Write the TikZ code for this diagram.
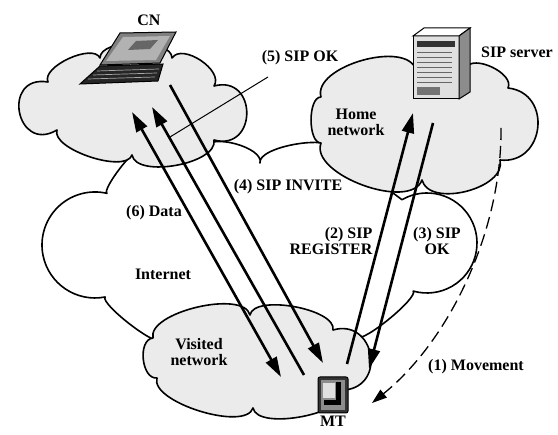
\documentclass[tikz,border=0pt]{standalone}
\usepackage{fontspec}
\setmainfont{Liberation Serif}
\usetikzlibrary{arrows.meta}
\begin{document}
\begin{tikzpicture}[x=1pt,y=-1pt,
  cloudline/.style={draw=black, line width=1.6pt, line join=round},
  cloudfill/.style={cloudline, fill=black!8},
  msg/.style={line width=2.6pt, -{Triangle[length=20pt,width=12pt]}},
  msgboth/.style={line width=2.6pt, {Triangle[length=20pt,width=12pt]}-{Triangle[length=20pt,width=12pt]}},
  move/.style={line width=1.3pt, dash pattern=on 12pt off 6pt, -{Triangle[length=15pt,width=10pt]}},
  leader/.style={line width=1pt},
  lbl/.style={font=\fontsize{16}{16}\selectfont\bfseries, inner sep=0pt},
]
\useasboundingbox (0,0) rectangle (558,435);
\fill[white] (0,0) rectangle (558,435);

% Internet cloud
\path[cloudline, fill=white] (205,148) to[bend left=90,looseness=0.72] (260,163)
  to[bend left=90,looseness=0.56] (335,150) -- (402,199.7)
  arc[start angle=-120,end angle=106,radius=50]
  to[bend left=90,looseness=0.3] (357,337) -- (345,350) -- (165,345) -- (160,340)
  to[bend left=90,looseness=0.3] (105.1,297)
  arc[start angle=79,end angle=283,radius=53]
  to[bend left=90,looseness=0.3] (140,150) -- cycle;

% CN cloud
\path[cloudfill] (48,82) to[bend left=90,looseness=0.75] (100,58)
  to[bend left=90,looseness=0.71] (172,58)
  to[bend left=90,looseness=0.94] (214,86)
  to[bend left=105,looseness=2.15] (214,140)
  to[bend left=90,looseness=0.74] (132,155)
  to[bend left=90,looseness=0.65] (57,130)
  to[bend left=110,looseness=2.5] (48,82) -- cycle;

% Home network cloud
\path[cloudfill] (321,97) to[bend left=90,looseness=0.83] (416,70)
  to[bend left=90,looseness=0.5] (466,68)
  to[bend left=90,looseness=0.88] (508,88)
  to[bend left=90,looseness=1.6] (500,160)
  to[bend left=90,looseness=0.93] (422,180)
  to[bend left=90,looseness=0.8] (321,143)
  to[bend left=90,looseness=0.74] (321,97) -- cycle;

% Visited network cloud
\path[cloudfill] (153,338) to[bend left=90,looseness=0.68] (250,315)
  to[bend left=90,looseness=0.65] (333,330)
  to[bend left=95,looseness=1.79] (345,390)
  to[bend left=90,looseness=0.65] (253,408)
  to[bend left=90,looseness=0.64] (157,378)
  to[bend left=90,looseness=1.0] (153,338) -- cycle;

% Laptop (CN)
\filldraw[fill=black!50, draw=black, line width=1pt] (100,65) -- (160,63) -- (176,32) -- (120,33) -- cycle;
\fill[black!30] (106,61) -- (156,60) -- (170,36) -- (123,37) -- cycle;
\fill[black!60] (128,50) -- (150,49) -- (158,40) -- (136,41) -- cycle;
\filldraw[fill=black!85, draw=black, line width=1pt] (80,84) -- (158,81) -- (163,64) -- (100,66) -- cycle;
\draw[black!35, line width=0.7pt] (88,79) -- (155,77) (93,75) -- (157,73) (97,71) -- (159,69);

% Server
\filldraw[fill=black!12, draw=black, line width=1pt] (413,36) rectangle (459,99);
\filldraw[fill=white, draw=black, line width=1pt] (413,36) -- (424,28) -- (470,28) -- (459,36) -- cycle;
\filldraw[fill=black!45, draw=black, line width=1pt] (459,36) -- (470,28) -- (470,92) -- (459,99) -- cycle;
\fill[black!80] (417,41) rectangle (455,47);
\foreach \yy in {52,57,62,67,72,77,82}{\draw[black!60, line width=0.8pt] (417,\yy) -- (452,\yy);}
\fill[black!55] (417,87) rectangle (440,95);

% Mobile terminal
\filldraw[fill=black!80, draw=black, line width=1pt, rounded corners=2pt] (318,377) rectangle (348,413);
\fill[black!45] (321,380) rectangle (345,410);
\fill[black!12] (323,383) rectangle (335,398);
\fill[black] (336,382) rectangle (341,405);
\fill[black] (324,400) rectangle (341,405);

% connector end points
\coordinate (dataCN) at (132,112);
\coordinate (dataMT) at (281,377);
\coordinate (okMT) at (304,375);
\coordinate (okCN) at (152,107);
\coordinate (invCN) at (170,85);
\coordinate (invMT) at (323,363);
\coordinate (regMT) at (347,364);
\coordinate (regHN) at (413,113);
\coordinate (okHN) at (433,123);
\coordinate (okHMT) at (369,369);
\coordinate (movA) at (501,128);
\coordinate (movB) at (372,403);
\coordinate (leadA) at (268,77);
\coordinate (leadB) at (170,137);

% messages
\draw[msgboth] (dataCN) -- (dataMT);
\draw[msg] (okMT) -- (okCN);
\draw[msg] (invCN) -- (invMT);
\draw[msg] (regMT) -- (regHN);
\draw[msg] (okHN) -- (okHMT);
\draw[move] (movA) .. controls (502,230) and (450,340) .. (movB);
\draw[leader] (leadA) -- (leadB);

% labels
\node[lbl] (cn) at (149,20) {CN};
\node[lbl] (ok5) at (300,58) {(5) SIP OK};
\node[lbl] (srv) at (517,52) {SIP server};
\node[lbl, align=center] (home) at (356,122) {Home\\network};
\node[lbl] (inv4) at (288,187) {(4) SIP INVITE};
\node[lbl] (data6) at (154,213) {(6) Data};
\node[lbl, align=right] (reg2) at (331,241) {(2) SIP\\REGISTER};
\node[lbl, align=center] (ok3) at (437,241) {(3) SIP\\OK};
\node[lbl] (inet) at (163,274) {Internet};
\node[lbl, align=center] (vis) at (199,352) {Visited\\network};
\node[lbl] (mov1) at (476,367) {(1) Movement};
\node[lbl] (mt) at (333,421) {MT};
\end{tikzpicture}
\end{document}
